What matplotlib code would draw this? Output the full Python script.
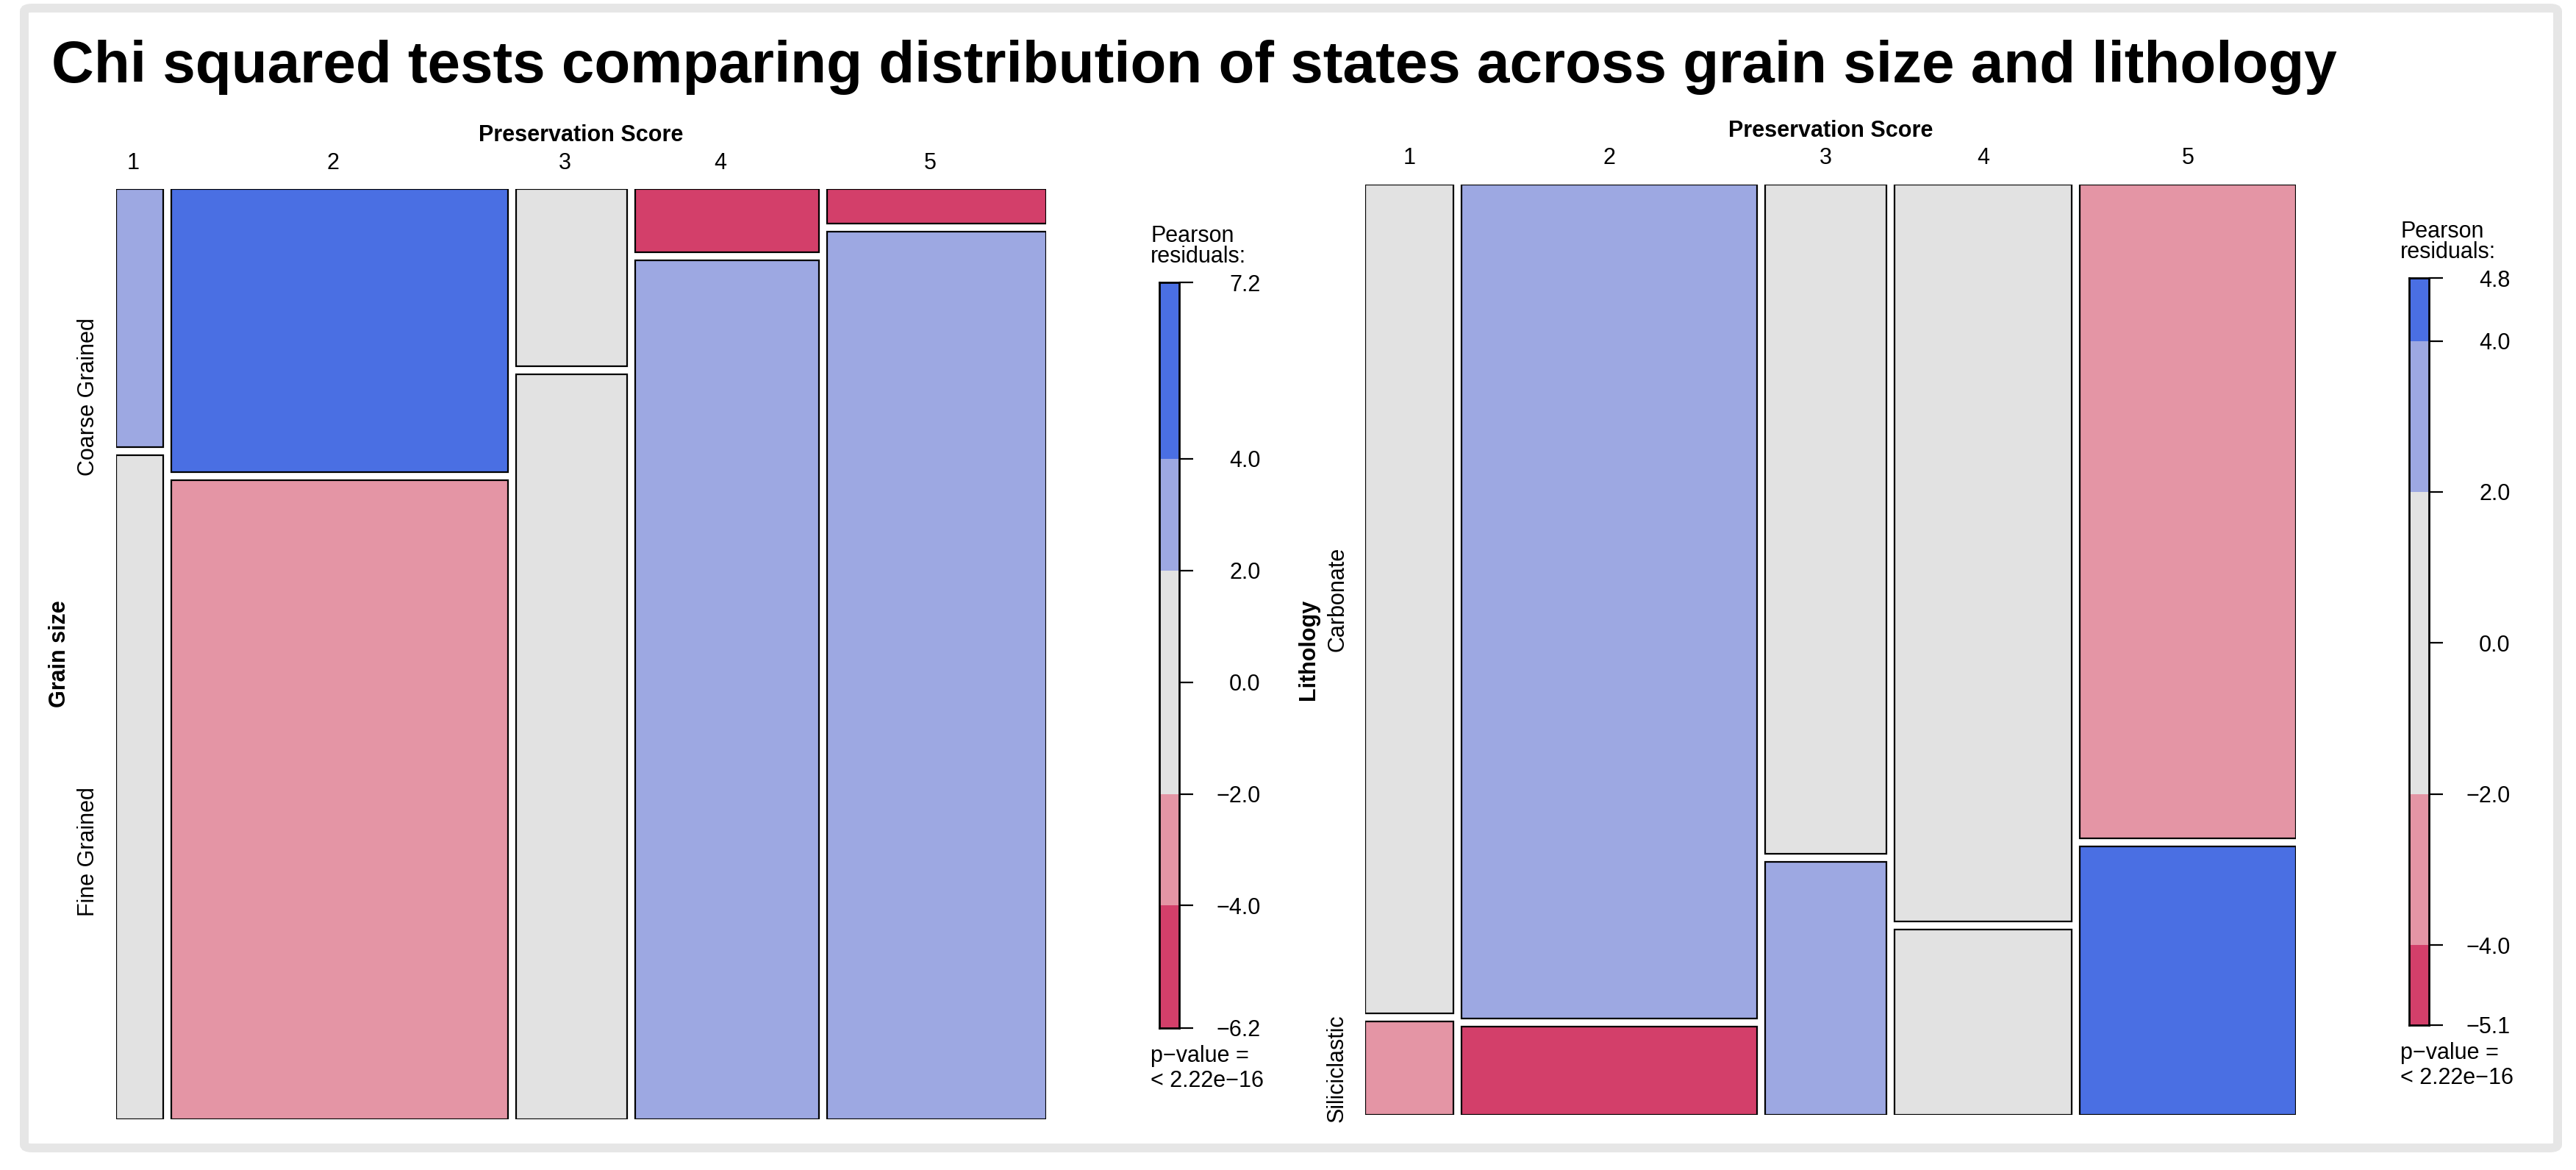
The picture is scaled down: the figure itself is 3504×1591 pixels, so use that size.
import numpy as np
import matplotlib
matplotlib.use('Agg')
import matplotlib.pyplot as plt
from matplotlib.patches import FancyBboxPatch

plt.rcParams['font.family'] = ['Liberation Sans', 'DejaVu Sans']

# ---- contingency tables ----
scores = ['1', '2', '3', '4', '5']

grain_levels = ['Coarse Grained', 'Fine Grained']
grain_counts = np.array([
    [21, 164, 34, 20, 13],      # Coarse Grained
    [54, 370, 143, 271, 335],   # Fine Grained
])

litho_levels = ['Carbonate', 'Siliciclastic']
litho_counts = np.array([
    [151, 510, 167, 270, 292],  # Carbonate
    [17, 54, 63, 68, 120],      # Siliciclastic
])

p_text = ['p\u2212value =', '< 2.22e\u221216']
title = 'Chi squared tests comparing distribution of states across grain size and lithology'

# shading of Pearson residuals (cut points +-2, +-4)
shade_breaks = [-4, -2, 2, 4]
shade_colors = ['#D33F6A', '#E495A5', '#E2E2E2', '#9DA8E2', '#4A6FE3']

W, H = 3504, 1591
fig = plt.figure(figsize=(W / 200, H / 200), dpi=200)


def px_box(x0, y0, x1, y1):
    # pixel box (top-left origin) -> figure fraction rect
    return [x0 / W, 1 - y1 / H, (x1 - x0) / W, (y1 - y0) / H]


def pearson_residuals(obs):
    expected = obs.sum(1, keepdims=True) * obs.sum(0, keepdims=True) / obs.sum()
    return (obs - expected) / np.sqrt(expected)


def draw_mosaic(ax, counts, row_levels, var_name, label_dx, row_va, gap=11 / 1265):
    res = pearson_residuals(counts)
    col_tot = counts.sum(0)
    k = len(col_tot)
    widths = (1 - gap * (k - 1)) * col_tot / col_tot.sum()
    x0 = np.concatenate([[0], np.cumsum(widths + gap)[:-1]])
    for j in range(k):
        heights = (1 - gap * (len(row_levels) - 1)) * counts[:, j] / col_tot[j]
        y0 = np.concatenate([[0], np.cumsum(heights + gap)[:-1]])
        cols = [shade_colors[i] for i in np.digitize(res[:, j], shade_breaks)]
        ax.bar(np.full(len(heights), x0[j]), heights, width=widths[j], bottom=y0,
               align='edge', color=cols, edgecolor='black', linewidth=0.8)
        ax.text(x0[j] + widths[j] / 2 + label_dx, -0.0215, scores[j],
                ha='center', va='baseline', fontsize=11)
        if j == 0:
            # level names sit next to the first column's tiles
            for lev, yy, hh in zip(row_levels, y0, heights):
                ax.text(-0.030, yy + hh / 2, lev, rotation=90, ha='center',
                        va=row_va, fontsize=11)
    ax.text(0.5, -0.0514, 'Preservation Score', ha='center', va='baseline',
            fontsize=11, fontweight='bold')
    ax.text(-0.061, 0.5, var_name, rotation=90, ha='center', va='center',
            fontsize=11, fontweight='bold')
    ax.set_xlim(0, 1)
    ax.set_ylim(1, 0)
    ax.axis('off')
    return res


def draw_legend(ax, res):
    lo, hi = res.min(), res.max()
    edges = [lo, -4, -2, 2, 4, hi]
    for a, b, c in zip(edges[:-1], edges[1:], shade_colors):
        ax.bar(0, b - a, width=1, bottom=a, align='edge', color=c, linewidth=0)
    ax.set_xlim(0, 1)
    ax.set_ylim(lo, hi)
    ticks = [lo, -4, -2, 0, 2, 4, hi]
    ax.set_yticks(ticks)
    ax.set_yticklabels([f'{t:.1f}'.replace('-', '\u2212') for t in ticks])
    ax.yaxis.tick_right()
    ax.set_xticks([])
    ax.tick_params(axis='y', length=6.8, width=0.8, pad=33, labelsize=11)
    for lbl in ax.get_yticklabels():
        lbl.set_horizontalalignment('right')
    for s in ax.spines.values():
        s.set_linewidth(1.0)
    bh = ax.get_position().height * H
    bw = ax.get_position().width * W
    ax.text(-12 / bw, 1 + 55 / bh, 'Pearson', transform=ax.transAxes,
            ha='left', va='baseline', fontsize=11)
    ax.text(-12 / bw, 1 + 27 / bh, 'residuals:', transform=ax.transAxes,
            ha='left', va='baseline', fontsize=11)
    for i, line in enumerate(p_text):
        ax.text(-12 / bw, -(46 + 34 * i) / bh, line, transform=ax.transAxes,
                ha='left', va='baseline', fontsize=11)


# outer frame
frame = FancyBboxPatch((33 / W, 1 - 1561 / H), 3446 / W, 1550 / H,
                       boxstyle='round,pad=0,rounding_size=0.003',
                       transform=fig.transFigure, fill=False,
                       edgecolor='#E6E6E6', linewidth=4.3)
fig.patches.append(frame)

fig.text(70 / W, 1 - 112 / H, title, fontsize=28.8, fontweight='bold',
         ha='left', va='baseline')

# grain size panel
ax1 = fig.add_axes(px_box(157.7, 257, 1423, 1522))
res1 = draw_mosaic(ax1, grain_counts, grain_levels, 'Grain size', -9 / 1265, 'top')
leg1 = fig.add_axes(px_box(1577, 384, 1604, 1397.6))
draw_legend(leg1, res1)

# lithology panel
ax2 = fig.add_axes(px_box(1857, 250.7, 3123, 1516))
res2 = draw_mosaic(ax2, litho_counts, litho_levels, 'Lithology', 0, 'center')
leg2 = fig.add_axes(px_box(3277, 378.4, 3304, 1393.6))
draw_legend(leg2, res2)

fig.savefig('out.png', dpi=200)
